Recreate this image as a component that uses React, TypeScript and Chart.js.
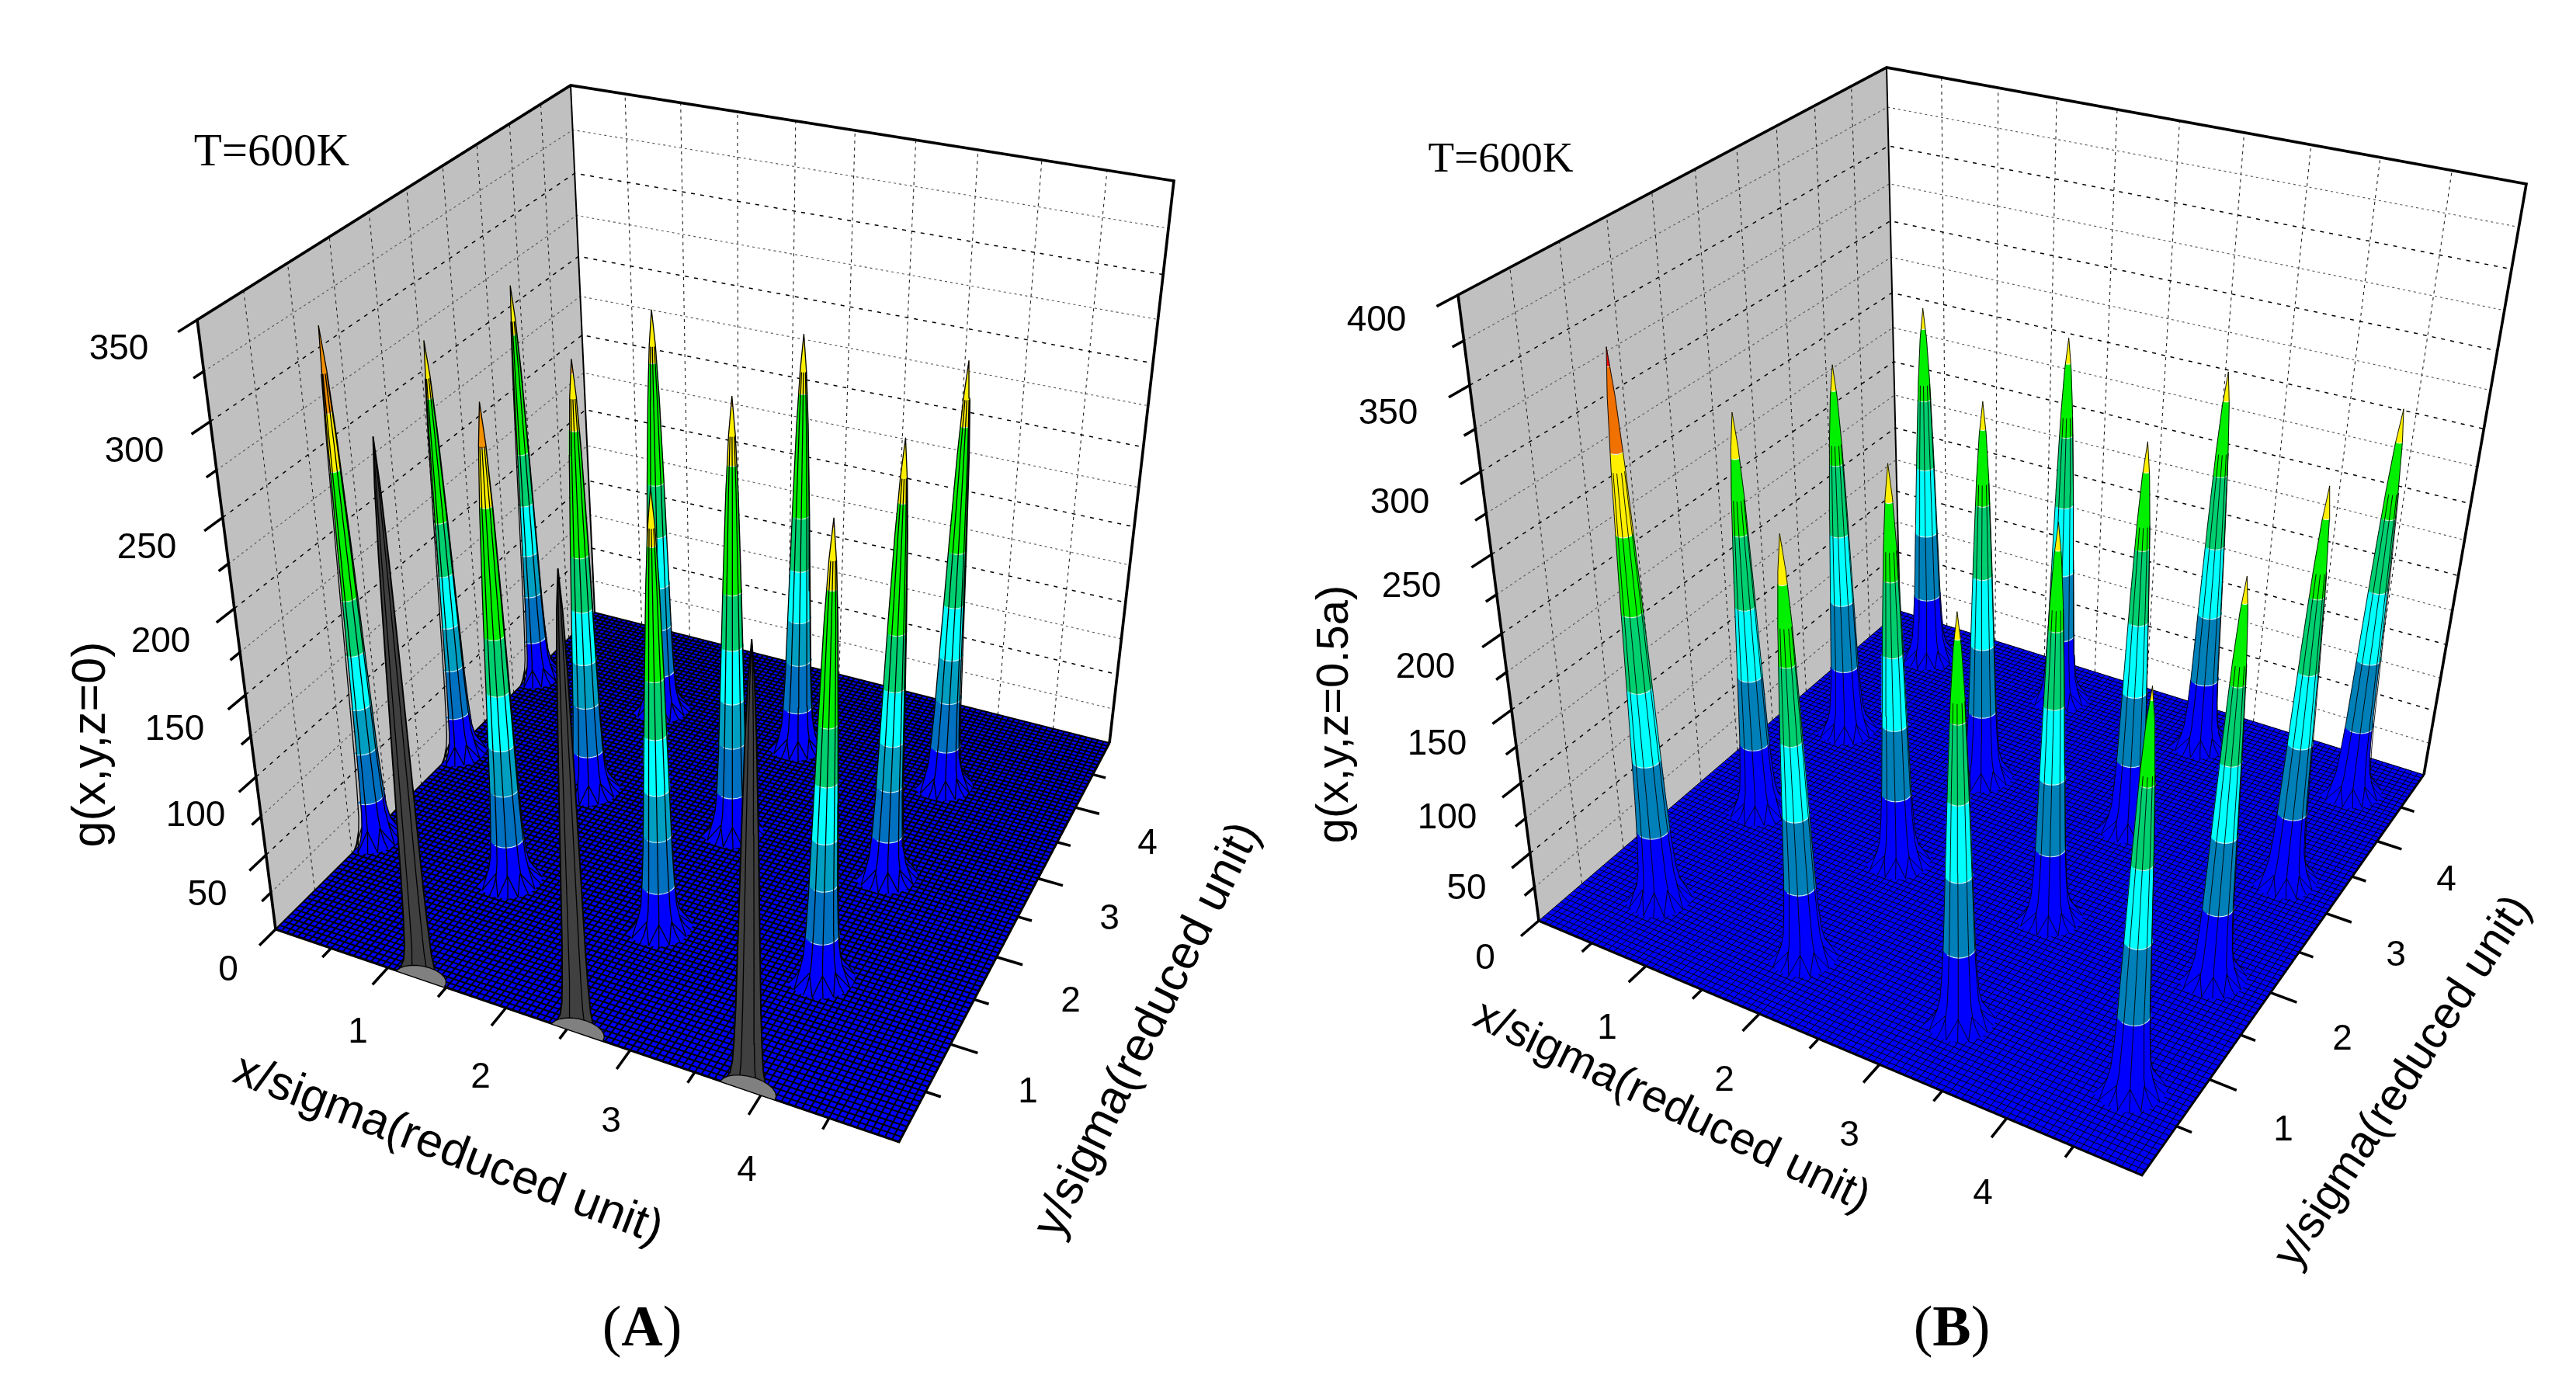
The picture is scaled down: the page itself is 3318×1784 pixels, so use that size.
import React, { useEffect, useRef } from "react";
import { Chart, registerables } from "chart.js";

Chart.register(...registerables);

// ---------- data ----------
const zLevelsA = [0, 28, 61, 90, 124, 158, 233, 265, 350];
const zColorsA = ["#0000FF", "#0070C0", "#009EC0", "#00FFFF", "#00D070", "#00F000", "#FFF000", "#F09000"];
const zLevelsB = [0, 50, 100, 150, 200, 250, 300, 350, 400];
const zColorsB = ["#0000FF", "#0080B8", "#00FFFF", "#00D070", "#00F000", "#FFF000", "#F07000", "#FF0000"];

const siteXA = [0, 1.28, 2.58, 3.9];
const siteYA = [0, 1.27, 2.56, 3.86];
const peaksA0 = [null, 312, 268, 257];
const peaksA1 = [311, 289, 264, 270];
const peaksA2 = [266, 273, 271, 268];
const peaksA3 = [262, 264, 267, 270];

const siteXB = [0.6, 1.91, 3.23, 4.56];
const siteYB = [0.68, 1.96, 3.23, 4.52];
const peaksB0 = [361, 280, 266, 258];
const peaksB1 = [279, 274, 267, 266];
const peaksB2 = [267, 268, 269, 270];
const peaksB3 = [264, 267, 269, 271];

const profileFrac = [0, 0.012, 0.03, 0.06, 0.12, 0.2, 0.4, 0.6, 0.8, 0.92, 1];
const profileRad = [0.25, 0.2, 0.162, 0.14, 0.125, 0.112, 0.092, 0.072, 0.048, 0.026, 0];

const zTicksA = ["0", "50", "100", "150", "200", "250", "300", "350"];
const zTicksB = ["0", "50", "100", "150", "200", "250", "300", "350", "400"];
const xyTicks = ["1", "2", "3", "4"];

// ---------- panel geometry ----------
type P = { x: number; y: number };
const panelA = {
  floor: [[355, 1197], [1158, 1471], [1429, 957], [766, 789]],
  top: [[254, 412], [1205, 623], [1512, 233], [735, 110]],
  zmax: 350, q: 1.2, mesh: 2, rib: 1.3, ribReach: 0.93,
  zLabelPos: [[294, 1250], [267, 1153], [252, 1051], [225, 940], [207, 827], [189, 706], [173, 582], [153, 450]],
  xLabelPos: [[461, 1330], [619, 1388], [787, 1445], [962, 1508]],
  yLabelPos: [[1324, 1407], [1379, 1290], [1429, 1184], [1478, 1087]],
};
const panelB = {
  floor: [[1982, 1186], [2759, 1514], [3122, 998], [2447, 787]],
  top: [[1878, 380], [2815, 644], [3254, 237], [2430, 87]],
  zmax: 400, q: 1.18, mesh: 1, rib: 0.9, ribReach: 0.82,
  zLabelPos: [[1913, 1235], [1889, 1145], [1864, 1054], [1851, 959], [1836, 860], [1818, 756], [1803, 648], [1788, 533], [1773, 413]],
  xLabelPos: [[2070, 1325], [2221, 1392], [2382, 1463], [2554, 1538]],
  yLabelPos: [[2941, 1456], [3017, 1339], [3086, 1231], [3151, 1134]],
};

function homography(q: number[][]) {
  const [[x0, y0], [x1, y1], [x2, y2], [x3, y3]] = q;
  const dx1 = x1 - x2, dx2 = x3 - x2, sx = x0 - x1 + x2 - x3;
  const dy1 = y1 - y2, dy2 = y3 - y2, sy = y0 - y1 + y2 - y3;
  const den = dx1 * dy2 - dx2 * dy1;
  const g = (sx * dy2 - dx2 * sy) / den;
  const h = (dx1 * sy - sx * dy1) / den;
  const a = x1 - x0 + g * x1, b = x3 - x0 + h * x3, c = x0;
  const d = y1 - y0 + g * y1, e = y3 - y0 + h * y3, f = y0;
  return (s: number, t: number): P => {
    const w = g * s + h * t + 1;
    return { x: (a * s + b * t + c) / w, y: (d * s + e * t + f) / w };
  };
}

const SPAN = 5;

function makeProjector(panel: typeof panelA) {
  const hf = homography(panel.floor);
  const ht = homography(panel.top);
  return (x: number, y: number, z: number): P => {
    const F = hf(x / SPAN, y / SPAN);
    const T = ht(x / SPAN, y / SPAN);
    const w = z / panel.zmax;
    const f = w <= 0 ? 0 : w / (w + panel.q * (1 - w));
    return { x: F.x + (T.x - F.x) * f, y: F.y + (T.y - F.y) * f };
  };
}

const GAP = { x: 0, y: null as any };

function poly(data: P[], color: string, border?: string, bw = 0.6) {
  return { data, showLine: true, fill: "shape", backgroundColor: color, borderColor: border ?? color, borderWidth: bw, pointRadius: 0 };
}
function line(data: any[], color: string, width: number, dash: number[] = []) {
  return { data, showLine: true, fill: false, borderColor: color, borderWidth: width, borderDash: dash, pointRadius: 0, spanGaps: false };
}

function radiusAt(frac: number) {
  for (let i = 1; i < profileFrac.length; i++) {
    if (frac <= profileFrac[i]) {
      const k = (frac - profileFrac[i - 1]) / (profileFrac[i] - profileFrac[i - 1]);
      return profileRad[i - 1] + (profileRad[i] - profileRad[i - 1]) * k;
    }
  }
  return 0;
}

const ARC = [-90, -75, -60, -45, -30, -15, 0, 15, 30, 45, 60, 75, 90];
const RIBS = [-90, -52, -18, 20, 55, 90];
const FLARE = [-72, -36, 0, 36, 72];
const R2 = Math.SQRT1_2;
const CUT = 0.82;

function spikeDatasets(panel: typeof panelA, pr: any, cx: number, cy: number, peak: number, levels: number[], colors: string[]) {
  const out: any[] = [];
  const ring = (z: number, deg: number): P => {
    const r = radiusAt(z / peak);
    const th = (deg * Math.PI) / 180;
    const fr = Math.cos(th), rt = Math.sin(th);
    const px = Math.max(0, cx + r * (fr * R2 + rt * R2));
    const py = Math.max(0, cy + r * (-fr * R2 + rt * R2));
    return pr(px, py, z);
  };
  const knots = profileFrac.map((f) => f * peak);
  for (let i = 0; i < colors.length; i++) {
    const z1 = levels[i];
    const z2 = Math.min(levels[i + 1], peak);
    if (z1 >= peak) break;
    const inner = knots.filter((k) => k > z1 && k < z2);
    const pts: P[] = [];
    ARC.forEach((a) => pts.push(ring(z1, a)));
    inner.forEach((k) => pts.push(ring(k, 90)));
    [...ARC].reverse().forEach((a) => pts.push(ring(z2, a)));
    [...inner].reverse().forEach((k) => pts.push(ring(k, -90)));
    out.push(poly(pts, colors[i]));
  }
  const ribs: any[] = [];
  RIBS.forEach((a, n) => {
    const edge = n === 0 || n === RIBS.length - 1;
    knots.forEach((k) => { if (edge || k <= panel.ribReach * peak) ribs.push(ring(k, a)); });
    ribs.push(GAP);
  });
  FLARE.forEach((a) => {
    ribs.push(ring(0, a), ring(0.035 * peak, a + 18), GAP, ring(0, a), ring(0.035 * peak, a - 18), GAP);
  });
  const white: any[] = [];
  levels.slice(1).forEach((z) => {
    if (z < peak) {
      ARC.slice(2, -2).forEach((a) => white.push(ring(z, a)));
      white.push(GAP);
    }
  });
  out.push(line(white, "rgba(235,255,255,0.85)", 1.2));
  out.push(line(ribs, "#000000", panel.rib));
  return out;
}

function cutSpikeDatasets(panel: typeof panelA, pr: any, cx: number, peak: number) {
  const out: any[] = [];
  const knots = profileFrac.map((f) => f * peak);
  const side = (sgn: number) => knots.map((k) => pr(cx + sgn * radiusAt(k / peak) * CUT, 0, k));
  out.push(poly([...side(-1), ...side(1).reverse()], "#404040", "#000000", panel.rib + 0.6));
  const ribs: any[] = [];
  [-0.45, 0.45].forEach((m) => {
    knots.forEach((k) => ribs.push(pr(cx + m * radiusAt(k / peak) * CUT, 0, k)));
    ribs.push(GAP);
  });
  out.push(line(ribs, "#000000", panel.rib));
  const R = radiusAt(0) * CUT;
  const cap: P[] = [];
  for (let a = 0; a <= 180; a += 15) {
    const th = (a * Math.PI) / 180;
    cap.push(pr(cx + R * Math.cos(th), R * 0.62 * Math.sin(th), 0));
  }
  out.push(poly(cap, "#808080", "#000000", panel.rib));
  return out;
}

function panelDatasets(panel: typeof panelA, siteX: number[], siteY: number[], peaks: (number | null)[][], levels: number[], colors: string[]) {
  const pr = makeProjector(panel);
  const ds: any[] = [];
  const Z = panel.zmax;
  // walls
  ds.push(poly([pr(0, 0, 0), pr(0, 0, Z), pr(0, SPAN, Z), pr(0, SPAN, 0)], "#C0C0C0"));
  ds.push(poly([pr(0, SPAN, 0), pr(0, SPAN, Z), pr(SPAN, SPAN, Z), pr(SPAN, SPAN, 0)], "#FFFFFF"));
  // wall grid
  const major: any[] = [], minor: any[] = [], verticals: any[] = [];
  for (let z = 25; z < Z; z += 25) {
    const arr = z % 50 === 0 ? major : minor;
    arr.push(pr(0, 0, z), pr(0, SPAN, z), pr(SPAN, SPAN, z), GAP);
  }
  for (let i = 0.5; i < SPAN; i += 0.5) {
    verticals.push(pr(0, i, 0), pr(0, i, Z), GAP, pr(i, SPAN, 0), pr(i, SPAN, Z), GAP);
  }
  ds.push(line(verticals, "#222222", 1.1, [4, 5]));
  ds.push(line(minor, "#555555", 1.1, [3, 4]));
  ds.push(line(major, "#000000", 1.5, [5, 7]));
  // floor
  ds.push(poly([pr(0, 0, 0), pr(SPAN, 0, 0), pr(SPAN, SPAN, 0), pr(0, SPAN, 0)], "#0000FF"));
  const mesh: any[] = [];
  for (let i = 0; i <= 100; i++) {
    const v = (i * SPAN) / 100;
    mesh.push(pr(v, 0, 0), pr(v, SPAN, 0), GAP, pr(0, v, 0), pr(SPAN, v, 0), GAP);
  }
  ds.push(line(mesh, "#000000", panel.mesh));
  // ticks
  const ticks: any[] = [];
  for (let z = 0; z <= Z; z += 25) {
    const len = z % 50 === 0 ? 0.2 : 0.11;
    ticks.push(pr(0, 0, z), pr(0, -len, z), GAP);
  }
  for (let i = 0; i <= SPAN; i += 0.5) {
    const len = Number.isInteger(i) ? 0.2 : 0.11;
    if (i > 0 && i < SPAN) {
      ticks.push(pr(i, 0, 0), pr(i, -len, 0), GAP);
      ticks.push(pr(SPAN, i, 0), pr(SPAN + len, i, 0), GAP);
    }
  }
  ds.push(line(ticks, "#000000", 3.5));
  // frame
  ds.push(line([pr(0, 0, 0), pr(0, 0, Z), pr(0, SPAN, Z), pr(SPAN, SPAN, Z), pr(SPAN, SPAN, 0)], "#000000", 3.6));
  ds.push(line([pr(0, SPAN, Z), pr(0, SPAN, 0)], "#000000", 2));
  ds.push(line([pr(0, 0, 0), pr(SPAN, 0, 0), pr(SPAN, SPAN, 0)], "#000000", 3));
  // spikes, furthest first
  const sites: { x: number; y: number; z: number }[] = [];
  peaks.forEach((row, j) => row.forEach((z, i) => { if (z != null) sites.push({ x: siteX[i], y: siteY[j], z }); }));
  sites.sort((a, b) => a.x - a.y - (b.x - b.y));
  sites.forEach((s) => {
    if (s.y === 0) ds.push(...cutSpikeDatasets(panel, pr, s.x, s.z));
    else ds.push(...spikeDatasets(panel, pr, s.x, s.y, s.z, levels, colors));
  });
  return ds;
}

// ---------- text ----------
const SANS = '"Liberation Sans", Arial, sans-serif';
const SERIF = '"Liberation Serif", "Times New Roman", serif';

type Txt = { t: string; x: number; y: number; rot: number; font: string };
function panelTexts(panel: typeof panelA, zt: string[], title: string, titleX: number[], titleY: number[], titleZ: number[], tLabel: number[], tSize: number, tfs: number): Txt[] {
  const out: Txt[] = [];
  const tick = `46px ${SANS}`;
  zt.forEach((t, i) => out.push({ t, x: panel.zLabelPos[i][0], y: panel.zLabelPos[i][1], rot: 0, font: tick }));
  xyTicks.forEach((t, i) => out.push({ t, x: panel.xLabelPos[i][0], y: panel.xLabelPos[i][1], rot: 0, font: tick }));
  xyTicks.forEach((t, i) => out.push({ t, x: panel.yLabelPos[i][0], y: panel.yLabelPos[i][1], rot: 0, font: tick }));
  const f = `${tfs}px ${SANS}`;
  out.push({ t: "x/sigma(reduced unit)", x: titleX[0], y: titleX[1], rot: titleX[2], font: f });
  out.push({ t: "y/sigma(reduced unit)", x: titleY[0], y: titleY[1], rot: titleY[2], font: f });
  out.push({ t: title, x: titleZ[0], y: titleZ[1], rot: -90, font: f });
  out.push({ t: "T=600K", x: tLabel[0], y: tLabel[1], rot: 0, font: `${tSize}px ${SERIF}` });
  return out;
}

const textsAll: Txt[] = [
  ...panelTexts(panelA, zTicksA, "g(x,y,z=0)", [577, 1482, 21], [1479, 1327, -63.8], [118, 959], [350, 197], 59, 61),
  ...panelTexts(panelB, zTicksB, "g(x,y,z=0.5a)", [2153, 1426, 25.7], [3096, 1394, -57], [1720, 920], [1933, 207], 55, 58),
];
const captions = [
  { letter: "A", x: 827, y: 1714 },
  { letter: "B", x: 2514, y: 1714 },
];

const textPlugin = {
  id: "panelText",
  afterDraw(chart: any) {
    const { ctx, scales } = chart;
    ctx.save();
    ctx.fillStyle = "#000";
    ctx.textAlign = "center";
    ctx.textBaseline = "middle";
    textsAll.forEach((tx) => {
      ctx.save();
      ctx.translate(scales.x.getPixelForValue(tx.x), scales.y.getPixelForValue(tx.y));
      ctx.rotate((tx.rot * Math.PI) / 180);
      ctx.font = tx.font;
      ctx.fillText(tx.t, 0, 0);
      ctx.restore();
    });
    captions.forEach((c) => {
      const reg = `74px ${SERIF}`, bold = `bold 74px ${SERIF}`;
      ctx.font = reg;
      const pw = ctx.measureText("(").width;
      ctx.font = bold;
      const lw = ctx.measureText(c.letter).width;
      const total = 2 * pw + lw;
      const left = c.x - total / 2;
      ctx.textAlign = "left";
      ctx.font = reg;
      ctx.fillText("(", left, c.y);
      ctx.font = bold;
      ctx.fillText(c.letter, left + pw, c.y);
      ctx.font = reg;
      ctx.fillText(")", left + pw + lw, c.y);
      ctx.textAlign = "center";
    });
    ctx.restore();
  },
};

export default function App() {
  const ref = useRef<HTMLCanvasElement>(null);
  useEffect(() => {
    const ds = [
      ...panelDatasets(panelA, siteXA, siteYA, [peaksA0, peaksA1, peaksA2, peaksA3], zLevelsA, zColorsA),
      ...panelDatasets(panelB, siteXB, siteYB, [peaksB0, peaksB1, peaksB2, peaksB3], zLevelsB, zColorsB),
    ];
    ds.forEach((d, i) => { d.order = -i; d.clip = false; });
    const chart = new Chart(ref.current as HTMLCanvasElement, {
      type: "scatter",
      data: { datasets: ds },
      options: {
        animation: false,
        responsive: false,
        layout: { padding: 0 },
        events: [],
        elements: { point: { radius: 0 }, line: { tension: 0 } },
        scales: {
          x: { type: "linear", min: 0, max: 3318, display: false },
          y: { type: "linear", min: 0, max: 1784, reverse: true, display: false },
        },
        plugins: { legend: { display: false }, tooltip: { enabled: false }, title: { display: false } },
      },
      plugins: [textPlugin],
    } as any);
    return () => chart.destroy();
  }, []);
  return (
    <div style={{ position: "absolute", left: 0, top: 0, width: 3318, height: 1784, background: "#fff" }}>
      <canvas ref={ref} width={3318} height={1784} style={{ display: "block" }} />
    </div>
  );
}
